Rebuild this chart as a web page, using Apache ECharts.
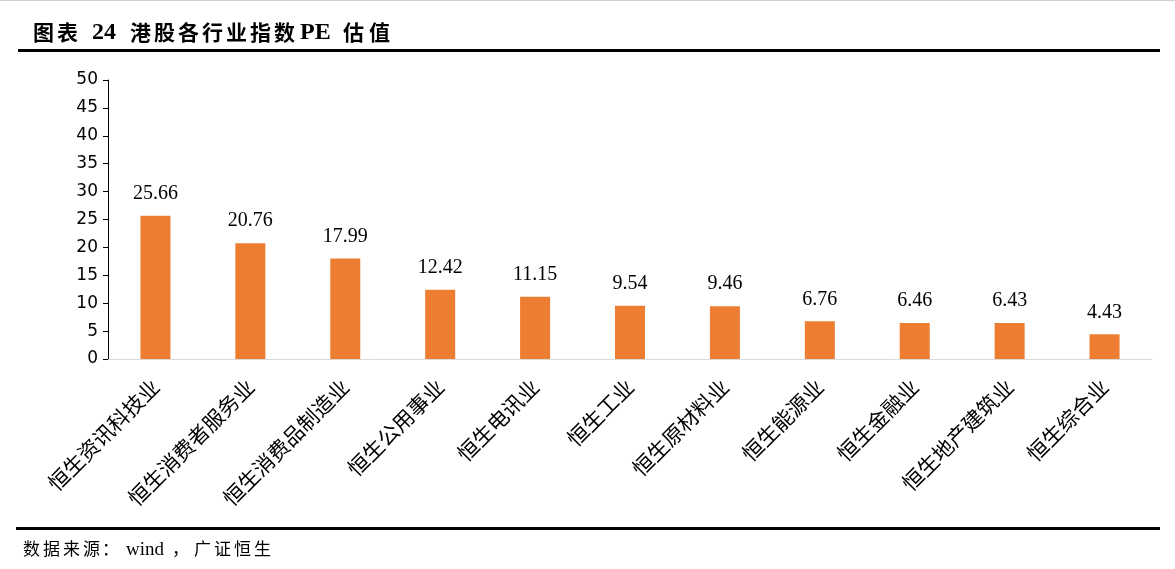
<!DOCTYPE html>
<html><head><meta charset="utf-8">
<script src="https://cdn.jsdelivr.net/npm/echarts@6/dist/echarts.min.js"></script>
<style>html,body{margin:0;padding:0;background:#fff}#c{width:1175px;height:569px}</style>
</head><body><div id="c"></div>
<script>
const categories = ['恒生资讯科技业','恒生消费者服务业','恒生消费品制造业','恒生公用事业','恒生电讯业','恒生工业','恒生原材料业','恒生能源业','恒生金融业','恒生地产建筑业','恒生综合业'];
const peValues = [25.66, 20.76, 17.99, 12.42, 11.15, 9.54, 9.46, 6.76, 6.46, 6.43, 4.43];
const yTicks = [0, 5, 10, 15, 20, 25, 30, 35, 40, 45, 50];
// title pieces: [text, left x, kind]
const titleParts = [['图', 33, 'c'], ['表', 57, 'c'], ['24', 92, 'l'], ['港', 130, 'c'], ['股', 154, 'c'], ['各', 178, 'c'], ['行', 202, 'c'], ['业', 226, 'c'], ['指', 250, 'c'], ['数', 274, 'c'], ['PE', 300, 'l'], ['估', 343, 'c'], ['值', 369, 'c']];
const sourceParts = [['数', 23, 'c'], ['据', 43, 'c'], ['来', 63, 'c'], ['源', 83, 'c'], ['：', 102, 'c'], ['wind', 126, 'l'], ['，', 172, 'c'], ['广', 194, 'c'], ['证', 214, 'c'], ['恒', 234, 'c'], ['生', 254, 'c']];

const chart = echarts.init(document.getElementById('c'));
const graphics = [
  {type: 'rect', left: 0, top: 0, shape: {width: 1175, height: 1}, style: {fill: '#d0d0d0'}},
  {type: 'rect', left: 18, top: 49, shape: {width: 1142, height: 3}, style: {fill: '#000'}},
  {type: 'rect', left: 16, top: 527, shape: {width: 1144, height: 3}, style: {fill: '#000'}}
];
titleParts.forEach(([t, x, k]) => graphics.push({type: 'text', left: x, top: k === 'c' ? 22 : 21,
  style: {text: t, font: k === 'c' ? 'bold 21px "Noto Sans CJK SC", sans-serif' : 'bold 24px "Liberation Serif", serif', fill: '#000'}}));
sourceParts.forEach(([t, x, k]) => graphics.push({type: 'text', left: x, top: k === 'c' ? 540 : 541,
  style: {text: t, font: k === 'c' ? '17px "Noto Sans CJK SC", sans-serif' : '19px "Liberation Serif", serif', fill: '#000'}}));

chart.setOption({
  animation: false,
  backgroundColor: '#fff',
  grid: {left: 108, right: 23, top: 80, bottom: 210},
  xAxis: {
    type: 'category', data: categories,
    axisLine: {lineStyle: {color: '#d9d9d9', width: 1}},
    axisTick: {show: false},
    axisLabel: {rotate: 45, interval: 0, color: '#000', fontSize: 21, margin: 24,
      fontFamily: '"Noto Sans CJK SC", sans-serif'}
  },
  yAxis: {
    type: 'value', min: yTicks[0], max: yTicks[yTicks.length - 1], interval: 5,
    splitLine: {show: false},
    axisLine: {show: true, lineStyle: {color: '#000', width: 1}},
    axisTick: {show: true, length: 5, lineStyle: {color: '#000'}},
    axisLabel: {color: '#000', fontSize: 17, margin: 10, fontFamily: '"DejaVu Sans", sans-serif'}
  },
  series: [{
    type: 'bar', data: peValues, barWidth: 30,
    itemStyle: {color: '#ED7D31'},
    label: {show: true, position: 'top', distance: 12, color: '#000', fontSize: 20,
      fontFamily: '"Liberation Serif", serif'}
  }],
  graphic: graphics
});
</script></body></html>
